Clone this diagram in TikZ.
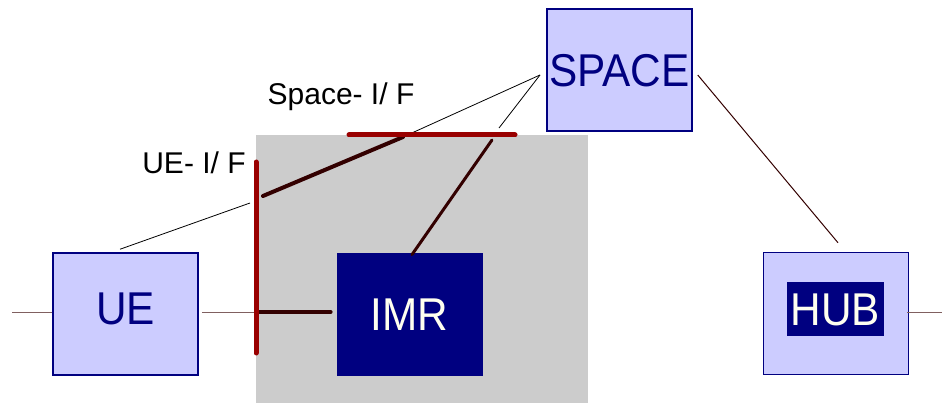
\documentclass[tikz,border=0pt]{standalone}
\usepackage{fontspec}
\setmainfont{Liberation Sans}
\usetikzlibrary{calc}

\definecolor{boxfill}{HTML}{CCCCFF}
\definecolor{boxline}{HTML}{000080}
\definecolor{corefill}{HTML}{CCCCCC}
\definecolor{ifred}{HTML}{990000}
\definecolor{linkdark}{HTML}{330000}
\definecolor{wirebrown}{HTML}{806060}
\definecolor{ivory}{HTML}{FFFFF0}

% slightly condensed large labels
\newcommand\boxword[1]{\scalebox{0.92}[1]{#1}}

\tikzset{
  netbox/.style={draw=boxline, line width=1.5pt, fill=boxfill,
    minimum width=145pt, minimum height=122pt, inner sep=0pt,
    text=boxline, font=\fontsize{46}{50}\selectfont,
    text height=33pt, text depth=0pt},
  corebox/.style={netbox, fill=boxline, text=ivory, line width=0.8pt},
  iflabel/.style={font=\fontsize{30}{34}\selectfont, inner sep=0pt, text=black},
  ifbar/.style={draw=ifred, line width=5pt, line cap=round},
  heavylink/.style={draw=linkdark, line width=4pt, line cap=round},
  medlink/.style={draw=linkdark, line width=3pt, line cap=round},
  thinlink/.style={draw=black, line width=0.8pt},
  wire/.style={draw=wirebrown, line width=1pt},
  darkwire/.style={draw=linkdark, line width=1pt},
}

\begin{document}
\begin{tikzpicture}[x=1pt,y=-1pt]
  \useasboundingbox (0,0) rectangle (942,403);

  % shaded core network area
  \fill[corefill] (256,135) rectangle (588,403);

  % network elements
  \node[netbox, text depth=12pt] (ue) at (125.5,314) {\boxword{UE}};
  \node[corebox] (imr) at (409.5,314) {\boxword{IMR}};
  \node[netbox] (space) at (619.5,70) {\boxword{SPACE}};
  \node[netbox] (hub) at (836,313.5) {};
  \node[fill=boxline, text=ivory, minimum width=97pt, minimum height=54pt,
        inner sep=0pt, font=\fontsize{46}{50}\selectfont,
        text height=33pt, text depth=0pt] (hublabel) at (835.5,309) {\boxword{HUB}};

  % interface labels
  \node[iflabel] (ueif) at (194,163) {UE- I/ F};
  \node[iflabel] (spaceif) at (341,97) {Space- I/ F};

  % interface bars
  \coordinate (ubarT) at (256,162);
  \coordinate (ubarB) at (256,353);
  \coordinate (ubarM) at (256,312);
  \coordinate (ubarU) at (250,203);
  \coordinate (ubarJ) at (263,196);
  \coordinate (sbarL) at (349,135);
  \coordinate (sbarR) at (515,135);
  \coordinate (sbarJ) at (403,137);
  \coordinate (sbarI) at (492,140);
  \coordinate (sbarU) at (499,128);
  \coordinate (spaceTip) at (540,75);
  \coordinate (leftEnd) at (12,312);
  \coordinate (rightEnd) at (942,312);

  % outer wires
  \draw[wire] (leftEnd) -- (leftEnd -| ue.west);
  \draw[wire] ($(ue.east)+(3,-2)$) -- (ubarM);
  \draw[wire] ($(hub.east)+(-2,-1.5)$) -- (rightEnd);
  \draw[darkwire] ($(space.east)+(5,5)$) -- ($(hub.north)+(2,-9)$);

  % links through the interfaces
  \draw[thinlink] ($(ue.north)+(-5.5,-3)$) -- (ubarU);
  \draw[thinlink] (sbarJ) -- (spaceTip);
  \draw[thinlink] (sbarU) -- (spaceTip);
  \draw[heavylink] (ubarM) -- ($(imr.west)+(-6,-2)$);
  \draw[heavylink] (ubarJ) -- (sbarJ);
  \draw[medlink] ($(imr.north)+(2.5,2)$) -- (sbarI);

  \draw[ifbar] (ubarT) -- (ubarB);
  \draw[ifbar] (sbarL) -- (sbarR);
\end{tikzpicture}
\end{document}
